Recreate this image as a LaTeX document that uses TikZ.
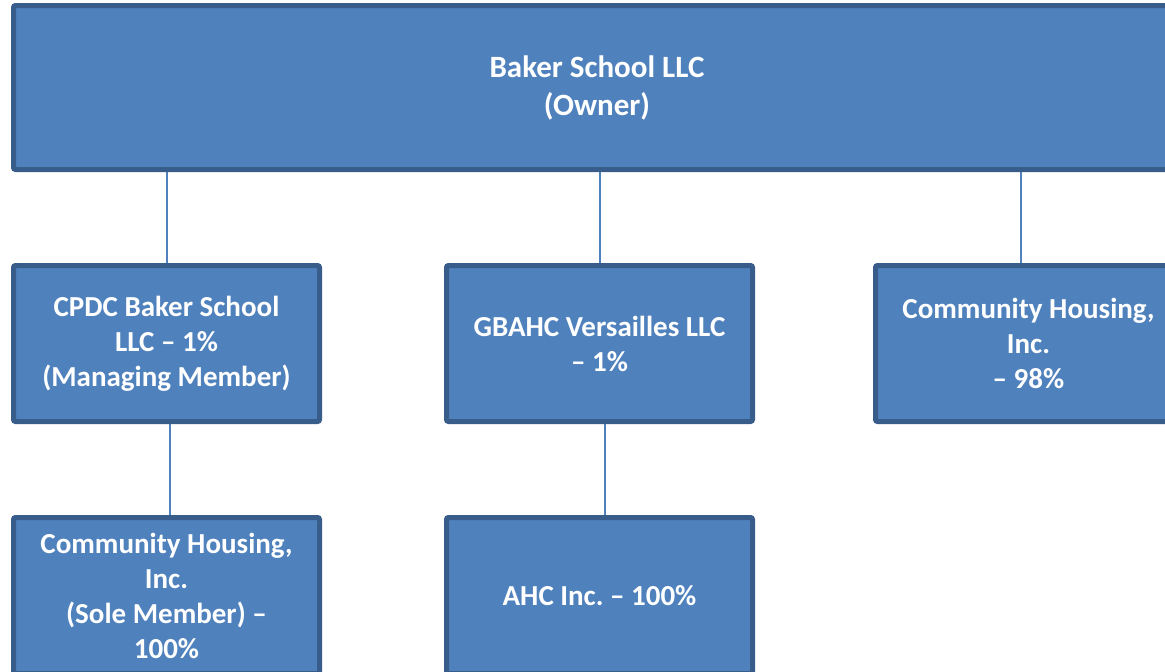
\documentclass[tikz,border=0pt]{standalone}
\usepackage{fontspec}
\setmainfont{Carlito}
\usetikzlibrary{positioning,backgrounds}
\definecolor{cFill}{HTML}{4F81BD}
\definecolor{cEdge}{HTML}{385D8A}

\begin{document}
\begin{tikzpicture}[
  node distance=91pt,
  obox/.style={draw=cEdge, fill=cFill, line width=5pt, rounded corners=2pt,
               inner sep=0pt, align=center, text=white,
               minimum width=306pt, minimum height=156pt,
               font=\fontsize{29}{35}\selectfont\bfseries},
  link/.style={draw=cFill, line width=2pt},
]
% page frame
\useasboundingbox (0,0) rectangle (1165pt,-672pt);

% ---- Owner ----
\node[obox, minimum width=1167pt, minimum height=164pt,
      font=\fontsize{31}{38}\selectfont\bfseries] (owner) at (597pt,-87.5pt)
  {Baker School LLC\\(Owner)};

% ---- Members ----
\node[obox, below=of owner, xshift=-430.5pt] (cpdc)
  {CPDC Baker School\\LLC -- 1\%\\(Managing Member)};
\node[obox, below=of owner, xshift=2.5pt] (gbahc)
  {GBAHC Versailles LLC\\-- 1\%};
\node[obox, below=of owner, xshift=431.5pt] (chi)
  {Community Housing,\\Inc.\\-- 98\%};

% ---- Parents ----
\node[obox, below=of cpdc] (chsole)
  {Community Housing,\\Inc.\\(Sole Member) --\\100\%};
\node[obox, below=of gbahc] (ahc)
  {AHC Inc.\ -- 100\%};

% ---- Lines ----
\begin{scope}[on background layer]
  \fill[white] (0,0) rectangle (1165pt,-672pt);
  \draw[link] (owner.south -| cpdc.north) -- (cpdc.north);
  \draw[link] (owner.south -| gbahc.north) -- (gbahc.north);
  \draw[link] ([xshift=-7.5pt]chi.north |- owner.south) -- ([xshift=-7.5pt]chi.north);
  \draw[link] ([xshift=3.5pt]cpdc.south) -- ([xshift=3.5pt]chsole.north);
  \draw[link] ([xshift=5pt]gbahc.south) -- ([xshift=5pt]ahc.north);
\end{scope}

\end{tikzpicture}
\end{document}
